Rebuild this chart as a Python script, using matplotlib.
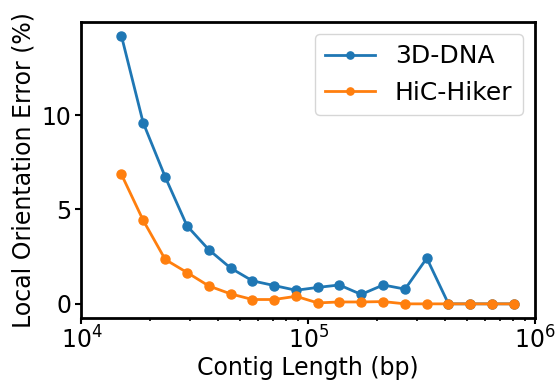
import matplotlib
matplotlib.use("Agg")
import matplotlib.pyplot as plt

contig_length = [15000, 18700, 23400, 29200, 36400, 45400, 56700, 70700, 88300,
                 110000, 137000, 171000, 214000, 267000, 333000, 415000, 518000,
                 647000, 807000]
dna3d = [14.2, 9.6, 6.72, 4.13, 2.87, 1.9, 1.22, 0.97, 0.72, 0.87, 1.0, 0.5,
         1.0, 0.78, 2.42, 0.0, 0.0, 0.0, 0.0]
hichiker = [6.86, 4.43, 2.35, 1.66, 0.95, 0.53, 0.23, 0.23, 0.40, 0.05, 0.1,
            0.1, 0.12, 0.0, 0.0, 0.0, 0.0, 0.0, 0.0]

fig = plt.figure(figsize=(5.58, 3.82), dpi=100)
ax = fig.add_axes([0.146, 0.168, 0.813, 0.775])
ax.plot(contig_length, dna3d, marker="o", color="#1f77b4", lw=2, ms=6.5, label="3D-DNA")
ax.plot(contig_length, hichiker, marker="o", color="#ff7f0e", lw=2, ms=6.5, label="HiC-Hiker")
ax.set_xscale("log")
ax.set_xlim(1e4, 1e6)
ax.set_ylim(-0.74, 14.94)
ax.set_yticks([0, 5, 10])
ax.set_xlabel("Contig Length (bp)", fontsize=17, labelpad=2)
ax.set_ylabel("Local Orientation Error (%)", fontsize=17)
ax.tick_params(labelsize=17)
ax.tick_params(axis="x", which="major", pad=2)
ax.tick_params(which="major", width=1.5, length=4)
ax.tick_params(which="minor", width=1.2, length=2.5)
for s in ax.spines.values():
    s.set_linewidth(2)
ax.legend(fontsize=18, loc="upper right", markerscale=0.8)
fig.savefig("out.png", dpi=100)
